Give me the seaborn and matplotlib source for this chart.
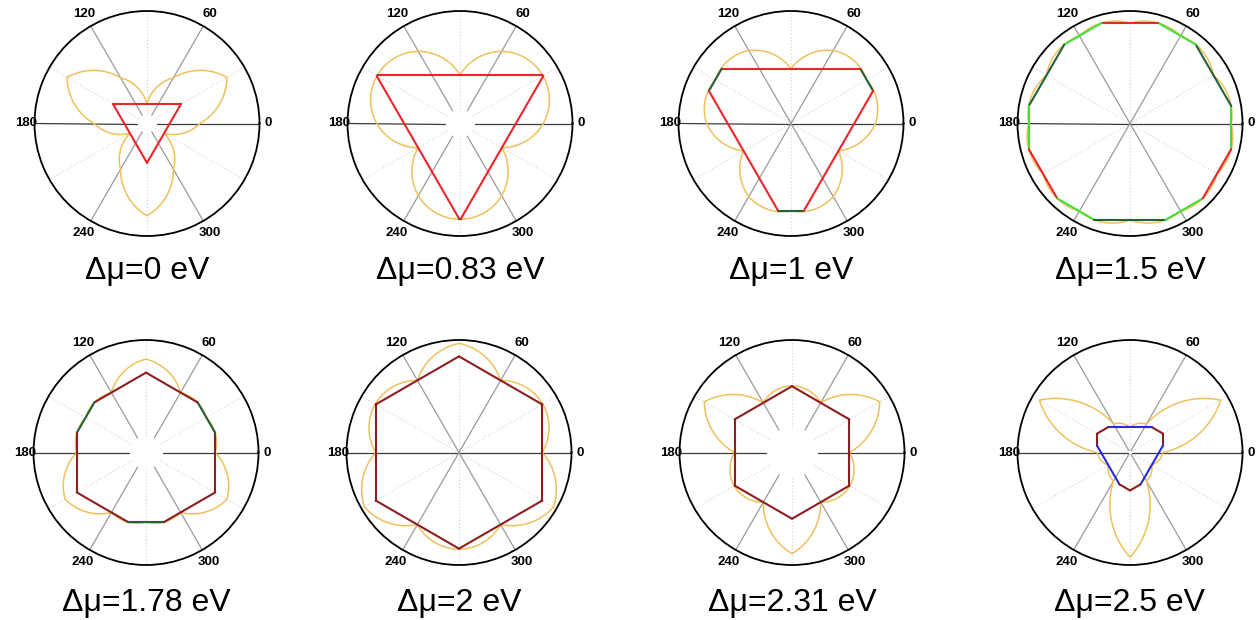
import numpy as np
import matplotlib
matplotlib.use("Agg")
import matplotlib.pyplot as plt
import seaborn as sns

sns.set_theme(style="white")
plt.rcParams["font.family"] = ["Liberation Sans", "DejaVu Sans"]

# chemical potential shift of each panel
delta_mu = ["0", "0.83", "1", "1.5", "1.78", "2", "2.31", "2.5"]

# edge energies, normalised to the radial limit of each panel
gamma_za = [0.175, 0.430, 0.487, 0.893, 0.830, 0.970, 0.594, 0.223]  # zigzag A: normals 90/210/330
gamma_zb = [0.820, 0.850, 0.777, 0.857, 0.620, 0.860, 0.900, 0.930]  # zigzag B: normals 30/150/270
gamma_ac = [0.470, 0.740, 0.750, 0.900, 0.615, 0.740, 0.510, 0.292]  # armchair: normals 0/60/.../300

# edge colours of the equilibrium shapes
color_za = ["#e8262b", "#e8262b", "#e8262b", "#e8262b", "#8b1e1e", "#8b1e1e", "#8b1e1e", "#2b2bdc"]
color_zb = ["#23603c"] * 8
color_ac = ["#8b1e1e", "#8b1e1e", "#8b1e1e", "#45de3a", "#8b1e1e", "#8b1e1e", "#8b1e1e", "#8b1e1e"]
gamma_color = "#efc15c"

# inner end of the solid spokes in each panel
hub = [0.085, 0.13, 0.0, 0.0, 0.15, 0.0, 0.23, 0.02]

spoke_labels = [0, 60, 120, 180, 240, 300]

W, H = 1258, 620
centers = [(147, 123.5), (460, 123.5), (791, 123.5), (1130, 123.5),
           (146, 452.5), (459, 452.5), (792, 452.5), (1130, 452.5)]
R = 112.5


def facet_table(i):
    """Normal angles (deg), energies and kinds for the 12 edge orientations."""
    angles, energies, kinds = [], [], []
    for k in range(12):
        a = 30 * k
        if a % 60 == 0:
            angles.append(a); energies.append(gamma_ac[i]); kinds.append("ac")
        elif a % 120 == 90:
            angles.append(a); energies.append(gamma_za[i]); kinds.append("za")
        else:
            angles.append(a); energies.append(gamma_zb[i]); kinds.append("zb")
    return np.array(angles, float), np.array(energies), kinds


def gamma_curve(angles, energies, n=1440):
    th = np.linspace(0, 360, n + 1)
    r = np.empty_like(th)
    step = np.deg2rad(30)
    for j, t in enumerate(th):
        k = int(t // 30) % 12
        a0 = angles[k]
        g0, g1 = energies[k], energies[(k + 1) % 12]
        d = np.deg2rad(t - a0)
        r[j] = (g0 * np.sin(step - d) + g1 * np.sin(d)) / np.sin(step)
    return np.deg2rad(th), r


def wulff_edges(angles, energies, kinds):
    verts = [np.array(p, float) for p in [(3, 3), (-3, 3), (-3, -3), (3, -3)]]
    labs = [None] * 4
    for a, g, kd in zip(angles, energies, kinds):
        n = np.array([np.cos(np.deg2rad(a)), np.sin(np.deg2rad(a))])
        out_v, out_l = [], []
        m = len(verts)
        for j in range(m):
            P, Q, L = verts[j], verts[(j + 1) % m], labs[j]
            dP, dQ = P @ n - g, Q @ n - g
            if dP <= 0:
                out_v.append(P); out_l.append(L)
                if dQ > 0:
                    out_v.append(P + (Q - P) * dP / (dP - dQ)); out_l.append(kd)
            elif dQ <= 0:
                out_v.append(P + (Q - P) * dP / (dP - dQ)); out_l.append(L)
        verts, labs = out_v, out_l
    edges = []
    m = len(verts)
    for j in range(m):
        P, Q = verts[j], verts[(j + 1) % m]
        if np.hypot(*(Q - P)) > 1e-4:
            edges.append((P, Q, labs[j]))
    return edges


fig = plt.figure(figsize=(W / 100, H / 100), dpi=100)
fig.patch.set_facecolor("white")

for i, (cx, cy) in enumerate(centers):
    ax = fig.add_axes([(cx - R) / W, (H - cy - R) / H, 2 * R / W, 2 * R / H],
                      projection="polar")
    ax.set_facecolor("white")
    ax.grid(False)
    ax.set_xticks([])
    ax.set_yticks([])
    ax.set_ylim(0, 1)
    ax.spines["polar"].set_color("black")
    ax.spines["polar"].set_linewidth(1.3)

    # dotted light spokes
    for a in range(30, 360, 60):
        t = np.deg2rad(a)
        ax.plot([t, t], [hub[i], 1], color="#d2d2d2", lw=0.8, ls=(0, (1, 2)), zorder=1)
    # solid spokes
    for a in spoke_labels:
        t = np.deg2rad(a)
        col = "#3c3c3c" if a in (0, 180) else "#9a9a9a"
        ax.plot([t, t], [hub[i], 1], color=col, lw=0.9, zorder=1)

    angles, energies, kinds = facet_table(i)

    # polar plot of the edge energy
    th, r = gamma_curve(angles, energies)
    sns.lineplot(x=th, y=r, ax=ax, sort=False, estimator=None,
                 color=gamma_color, lw=1.1, zorder=2)

    # equilibrium shape from the inner envelope of the edge lines
    colors = {"za": color_za[i], "zb": color_zb[i], "ac": color_ac[i]}
    for P, Q, kd in wulff_edges(angles, energies, kinds):
        s = np.linspace(0, 1, 60)[:, None]
        pts = P + (Q - P) * s
        t = np.unwrap(np.arctan2(pts[:, 1], pts[:, 0]))
        rr = np.hypot(pts[:, 0], pts[:, 1])
        sns.lineplot(x=t, y=rr, ax=ax, sort=False, estimator=None,
                     color=colors[kd], lw=1.5, zorder=3)

    ax.set_xlabel("")
    ax.set_ylabel("")
    ax.set_ylim(0, 1)

    for a in spoke_labels:
        rl = 1.075 if a in (0, 180) else 1.12
        ax.text(np.deg2rad(a), rl, str(a), ha="center", va="center",
                fontsize=9.5, fontweight="bold", color="black", clip_on=False)

    base = 279.5 if i < 4 else 611
    fig.text(cx / W, 1 - base / H, "\u0394\u03bc=" + delta_mu[i] + " eV",
             ha="center", va="baseline", fontsize=23, color="black")

fig.savefig("out.png", dpi=100, facecolor="white")
